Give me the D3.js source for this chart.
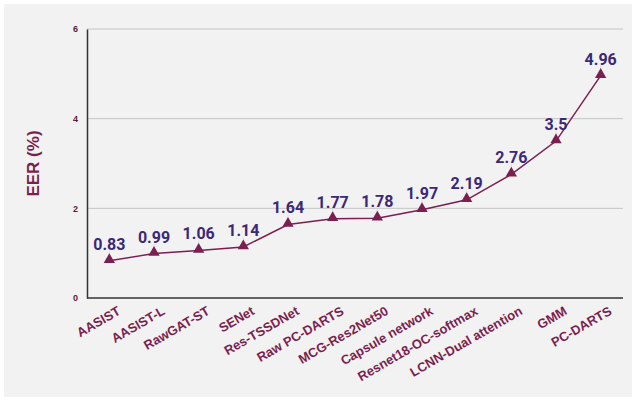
<!DOCTYPE html>
<html>
  <head>
    <meta charset="utf-8">
    <title></title>
    <style>
      body { margin: 0; background: #fff; }
    </style>
  </head>
  <body>
    <script src="https://cdn.jsdelivr.net/npm/d3@7"></script>
    <script>
      var models = ['AASIST', 'AASIST-L', 'RawGAT-ST', 'SENet', 'Res-TSSDNet', 'Raw PC-DARTS',
        'MCG-Res2Net50', 'Capsule network', 'Resnet18-OC-softmax', 'LCNN-Dual attention', 'GMM', 'PC-DARTS'];
      var eer = [0.83, 0.99, 1.06, 1.14, 1.64, 1.77, 1.78, 1.97, 2.19, 2.76, 3.5, 4.96];
      var yTicks = [0, 2, 4, 6];

      var width = 636, height = 401,
        margin = { top: 29, right: 13, bottom: 103, left: 87 };

      var svg = d3.select('body').append('svg')
        .attr('width', width)
        .attr('height', height);

      // 背景
      svg.append('rect')
        .attr('x', 4).attr('y', 4)
        .attr('width', width - 8).attr('height', height - 8)
        .attr('fill', '#f2f2f2');

      var x = d3.scalePoint()
        .domain(models)
        .range([margin.left, width - margin.right])
        .padding(0.5);

      var y = d3.scaleLinear()
        .domain([0, 6])
        .range([height - margin.bottom, margin.top]);

      // 网格线
      svg.append('g')
        .selectAll('line')
        .data(yTicks.slice(1))
        .enter().append('line')
        .attr('x1', margin.left).attr('x2', width - margin.right)
        .attr('y1', function(d) { return y(d); })
        .attr('y2', function(d) { return y(d); })
        .attr('stroke', '#c4c4c4')
        .attr('stroke-width', 1);

      // y轴
      var yAxis = svg.append('g')
        .attr('transform', 'translate(' + margin.left + ',0)')
        .call(d3.axisLeft(y).tickValues(yTicks).tickFormat(d3.format('d')).tickSize(0).tickPadding(9));
      yAxis.select('.domain').attr('stroke', '#333').attr('stroke-width', 1.5);
      yAxis.selectAll('text')
        .attr('fill', '#5a1a3c')
        .attr('font-family', 'Liberation Sans, Arial, sans-serif')
        .attr('font-weight', 'bold')
        .attr('font-size', '9px');

      // x轴
      var xAxis = svg.append('g')
        .attr('transform', 'translate(0,' + y(0) + ')')
        .call(d3.axisBottom(x).tickSize(0).tickSizeOuter(0));
      xAxis.select('.domain')
        .attr('d', 'M' + margin.left + ',0H' + (width - margin.right))
        .attr('stroke', '#333').attr('stroke-width', 1.5);
      xAxis.selectAll('text')
        .attr('fill', '#7a1f4f')
        .attr('font-family', 'Liberation Sans, Arial, sans-serif')
        .attr('font-weight', 'bold')
        .attr('font-size', '13px')
        .attr('text-anchor', 'end')
        .attr('dy', null)
        .attr('transform', 'translate(10,13) rotate(-30)');

      // y轴标题
      svg.append('text')
        .attr('transform', 'translate(39,' + (y(0) + y(6)) / 2 + ') rotate(-90)')
        .attr('text-anchor', 'middle')
        .attr('fill', '#7a1f4f')
        .attr('font-family', 'Liberation Sans, Arial, sans-serif')
        .attr('font-weight', 'bold')
        .attr('font-size', '17px')
        .text('EER (%)');

      // 引线
      svg.append('g')
        .selectAll('line')
        .data(eer)
        .enter().append('line')
        .attr('x1', function(d, i) { return x(models[i]); })
        .attr('x2', function(d, i) { return x(models[i]); })
        .attr('y1', function(d) { return y(d) - 10; })
        .attr('y2', function(d) { return y(d); })
        .attr('stroke', '#dcdcdc')
        .attr('stroke-width', 1);

      // 折线
      var line = d3.line()
        .x(function(d, i) { return x(models[i]); })
        .y(function(d) { return y(d); });
      svg.append('path')
        .datum(eer)
        .attr('d', line)
        .attr('fill', 'none')
        .attr('stroke', '#7a1f4f')
        .attr('stroke-width', 1.5);

      // 三角标记
      svg.append('g')
        .selectAll('path')
        .data(eer)
        .enter().append('path')
        .attr('d', d3.symbol().type(d3.symbolTriangle).size(55))
        .attr('transform', function(d, i) {
          return 'translate(' + x(models[i]) + ',' + (y(d) - 1) + ')';
        })
        .attr('fill', '#7a1f4f');

      // 数值标签
      svg.append('g')
        .selectAll('text')
        .data(eer)
        .enter().append('text')
        .attr('x', function(d, i) { return x(models[i]); })
        .attr('y', function(d) { return y(d) - 11; })
        .attr('text-anchor', 'middle')
        .attr('fill', '#3a2878')
        .attr('font-family', 'Roboto, sans-serif')
        .attr('font-weight', 'bold')
        .attr('font-size', '16px')
        .text(function(d) { return d; });
    </script>
  </body>
</html>
